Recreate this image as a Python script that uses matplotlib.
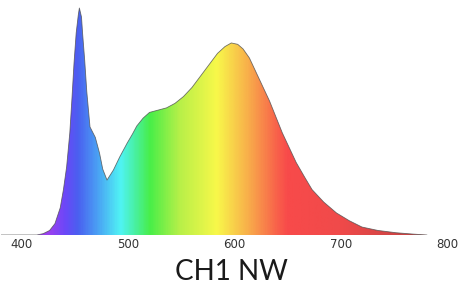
import numpy as np
import matplotlib.pyplot as plt
from matplotlib.colors import LinearSegmentedColormap

# spectrum (relative intensity)
wavelength = [380, 400, 414, 420, 426, 431, 436, 439, 442, 445, 447, 449, 451, 453, 454,
              456, 457, 459, 461, 464, 469, 473, 476, 480, 486, 492, 499,
              504, 508, 514, 520, 528, 536, 544, 552, 560, 568, 576, 584, 591, 597, 603,
              608, 614, 620, 626, 633, 639, 645, 652, 658, 666, 673, 684, 696, 708, 720,
              735, 752, 768, 781]
intensity = [0, 0, 0, 0.006, 0.02, 0.05, 0.12, 0.2, 0.3, 0.45, 0.6, 0.76, 0.89, 0.97, 1.0,
             0.96, 0.89, 0.77, 0.63, 0.476, 0.43, 0.36, 0.29, 0.242, 0.286, 0.344, 0.405,
             0.445, 0.48, 0.515, 0.54, 0.55, 0.56, 0.58, 0.61, 0.65, 0.70, 0.75, 0.80, 0.83, 0.846, 0.84,
             0.82, 0.78, 0.72, 0.66, 0.59, 0.52, 0.45, 0.38, 0.32, 0.255, 0.2, 0.145, 0.097, 0.063, 0.035,
             0.02, 0.01, 0.004, 0]

# colour stops of the rainbow fill
stop_wl = [380, 425, 440, 452, 470, 492, 506, 520, 548, 583, 612, 640, 650, 700, 790]
stop_col = ['#8a40d0', '#9a40f0', '#6a48f8', '#4a60f0', '#4aa0f4', '#50f4f4', '#48f0a0', '#48ee48',
            '#b8f048', '#f8f84a', '#f8b04a', '#f8604a', '#f84a4a', '#f04a4a', '#b84040']
ticks = [400, 500, 600, 700, 800]

xmin, xmax = 380, 800
lo, hi = stop_wl[0], stop_wl[-1]
cmap = LinearSegmentedColormap.from_list(
    'spec', [((w - lo) / (hi - lo), c) for w, c in zip(stop_wl, stop_col)])

fig = plt.figure(figsize=(4.59, 2.84), dpi=100)
ax = fig.add_axes([0.75 / 459, 49 / 284, 446.25 / 459, 227 * 1.03 / 284])

poly, = ax.fill(wavelength, intensity, facecolor='none', edgecolor='none')
grad = np.linspace(lo, hi, 600).reshape(1, -1)
im = ax.imshow(grad, extent=[lo, hi, 0, 1.03], aspect='auto', cmap=cmap,
               vmin=lo, vmax=hi, origin='lower')
im.set_clip_path(poly)
ax.plot(wavelength, intensity, color='#505050', lw=0.6, alpha=0.8)

ax.set_xlim(xmin, xmax)
ax.set_ylim(0, 1.03)
ax.set_xticks(ticks)
ax.set_xticklabels([str(t) for t in ticks], fontsize=8.5, color='#333333',
                   family='DejaVu Sans')
ax.tick_params(axis='x', length=0, pad=2)
ax.set_yticks([])
for s in ax.spines.values():
    s.set_visible(False)

fig.text(0.505, 4 / 284, 'CH1 NW', ha='center', va='baseline', fontsize=20,
         family='Lato', color='#1a1a1a')

fig.savefig('out.png', dpi=100)
